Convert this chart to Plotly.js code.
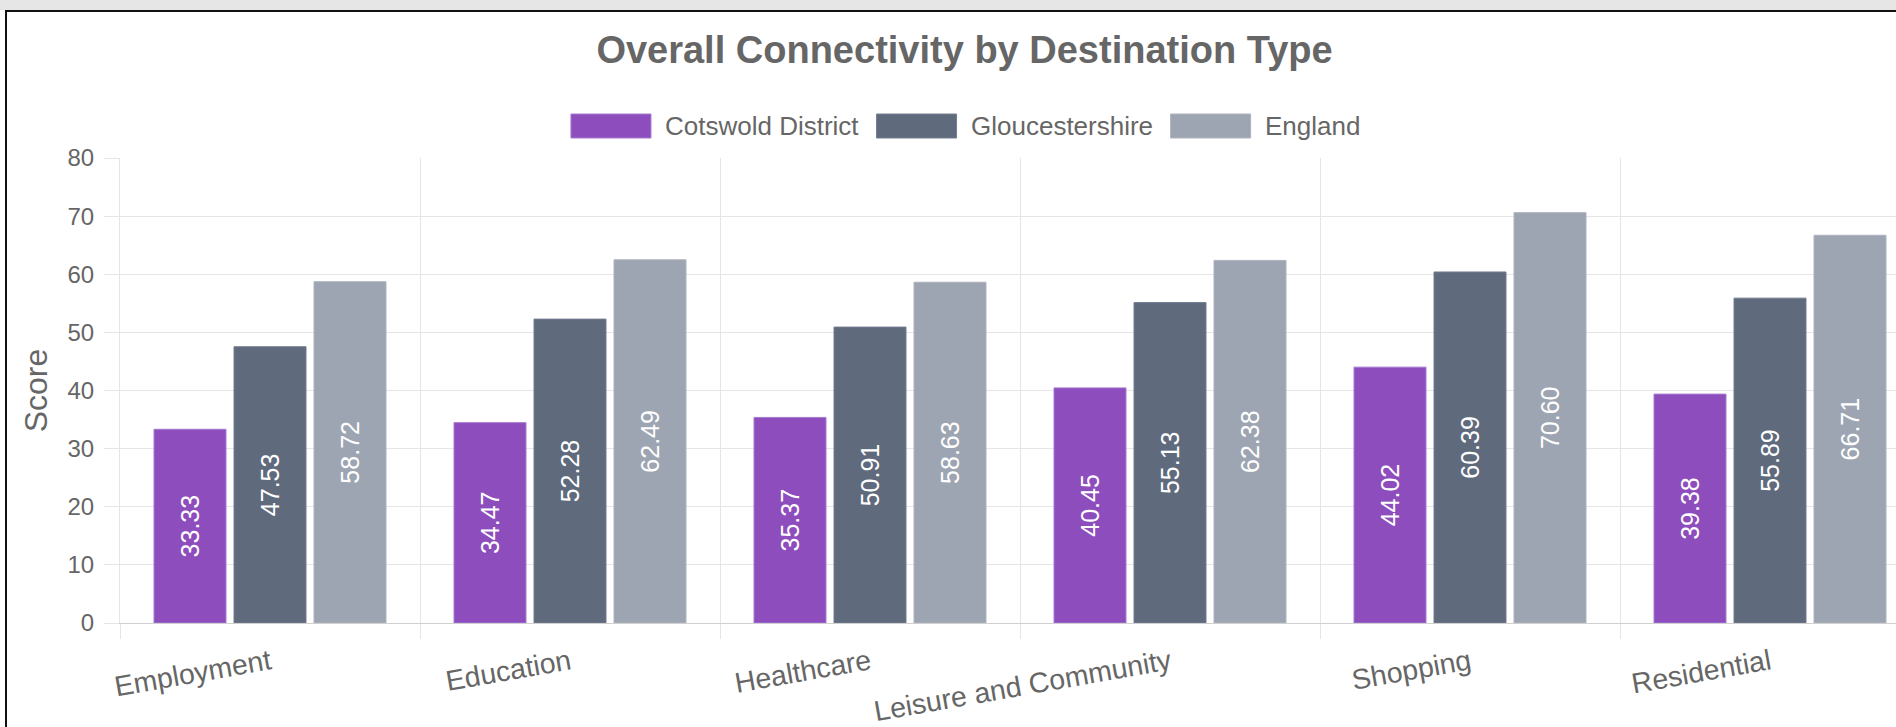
<!DOCTYPE html>
<html>
<head>
<meta charset="utf-8">
<script src="https://cdn.plot.ly/plotly-3.0.1.min.js"></script>
<style>
  html, body { margin: 0; padding: 0; overflow: hidden; background: #ffffff; width: 1896px; height: 727px; }
  #band { position: absolute; left: 0; top: 0; width: 1896px; height: 10px; background: #e6e6e6; z-index: 0; }
  #frame { position: absolute; left: 5px; top: 10px; width: 2000px; height: 800px; border-left: 2px solid #111; border-top: 2px solid #111; z-index: 2; pointer-events: none; }
  #chart { position: absolute; left: 0; top: 0; width: 1940px; height: 727px; z-index: 1; }
</style>
</head>
<body>
<div id="band"></div>
<div id="chart"></div>
<div id="frame"></div>
<script>
// ---- data ----
const categories = ["Employment", "Education", "Healthcare", "Leisure and Community", "Shopping", "Residential"];
const seriesNames = ["Cotswold District", "Gloucestershire", "England"];
const cotswold = [33.33, 34.47, 35.37, 40.45, 44.02, 39.38];
const gloucestershire = [47.53, 52.28, 50.91, 55.13, 60.39, 55.89];
const england = [58.72, 62.49, 58.63, 62.38, 70.60, 66.71];
const yTicks = [0, 10, 20, 30, 40, 50, 60, 70, 80];

// ---- styling ----
const colors = ["#8e4dbd", "#5f6a7d", "#9ea5b2"];
const edgeColors = ["#a57ad0", "#737d8e", "#aeb3be"];
const FONT = '"Liberation Sans", Arial, Helvetica, sans-serif';
const W = 1940, H = 727;
const M = { l: 120, r: 20, t: 158, b: 104 };
const plotW = W - M.l - M.r, plotH = H - M.t - M.b;
const px2paperX = px => (px - M.l) / plotW;
const px2paperY = py => (H - M.b - py) / plotH;

const values = [cotswold, gloucestershire, england];
const traces = values.map((vals, i) => ({
  type: "bar",
  name: seriesNames[i],
  x: categories,
  y: vals,
  marker: { color: colors[i], line: { color: edgeColors[i], width: 1 } },
  text: vals.map(v => v.toFixed(2)),
  texttemplate: "%{text}",
  textposition: "inside",
  insidetextanchor: "middle",
  textangle: -90,
  textfont: { family: FONT, size: 25, color: "#ffffff" },
  constraintext: "none",
  hoverinfo: "x+y+name",
  showlegend: false
}));

// ---- custom legend (boxes 80x24 like the reference) ----
const legendFontSize = 26;
const cv = document.createElement("canvas").getContext("2d");
cv.font = legendFontSize + "px " + FONT;
const boxW = 80, boxH = 24, boxGap = 12, itemGap = 20;
const textW = seriesNames.map(n => cv.measureText(n).width);
let total = 0;
textW.forEach((w, i) => { total += boxW + boxGap + w + (i < textW.length - 1 ? itemGap : 0); });
const legendCenterX = 964.5, legendCenterY = 126;
let cx = legendCenterX - total / 2;
const shapes = [], annotations = [];
seriesNames.forEach((n, i) => {
  shapes.push({
    type: "rect", xref: "paper", yref: "paper",
    x0: px2paperX(cx), x1: px2paperX(cx + boxW),
    y0: px2paperY(legendCenterY + boxH / 2), y1: px2paperY(legendCenterY - boxH / 2),
    fillcolor: colors[i], line: { color: edgeColors[i], width: 1 }
  });
  annotations.push({
    xref: "paper", yref: "paper",
    x: px2paperX(cx + boxW + boxGap), y: px2paperY(legendCenterY),
    xanchor: "left", yanchor: "middle", showarrow: false,
    text: n, font: { family: FONT, size: legendFontSize, color: "#666666" }
  });
  cx += boxW + boxGap + textW[i] + itemGap;
});

const gridColor = "#e5e5e5";
const layout = {
  width: W, height: H,
  margin: M,
  paper_bgcolor: "rgba(0,0,0,0)",
  plot_bgcolor: "#ffffff",
  font: { family: FONT, color: "#666666" },
  title: {
    text: "<b>Overall Connectivity by Destination Type</b>",
    font: { family: FONT, size: 38, color: "#666666" },
    xref: "container", yref: "container",
    x: 964.5 / W, xanchor: "center",
    y: 1 - 50 / H, yanchor: "middle"
  },
  barmode: "group",
  bargap: 0.2,
  bargroupgap: 0.1,
  showlegend: false,
  xaxis: {
    type: "category",
    tickangle: -10,
    tickson: "boundaries",
    ticks: "outside", ticklen: 15, tickcolor: gridColor, tickwidth: 1,
    ticklabelstandoff: 11,
    showgrid: true, gridcolor: gridColor, gridwidth: 1,
    showline: true, linecolor: "#d0d0d0", linewidth: 1,
    tickfont: { family: FONT, size: 28.5, color: "#666666" },
    automargin: false
  },
  yaxis: {
    range: [0, 80],
    tickvals: yTicks,
    ticktext: yTicks.map(String),
    ticks: "outside", ticklen: 15, tickcolor: gridColor, tickwidth: 1,
    ticklabelstandoff: 5,
    showgrid: true, gridcolor: gridColor, gridwidth: 1,
    showline: true, linecolor: gridColor, linewidth: 1,
    zeroline: true, zerolinecolor: "#d0d0d0", zerolinewidth: 1,
    tickfont: { family: FONT, size: 24, color: "#666666" },
    title: { text: "Score", font: { family: FONT, size: 32, color: "#666666" }, standoff: 10 },
    automargin: false
  },
  shapes: shapes,
  annotations: annotations
};

Plotly.newPlot("chart", traces, layout, { displayModeBar: false, responsive: false, staticPlot: false });
</script>
</body>
</html>
